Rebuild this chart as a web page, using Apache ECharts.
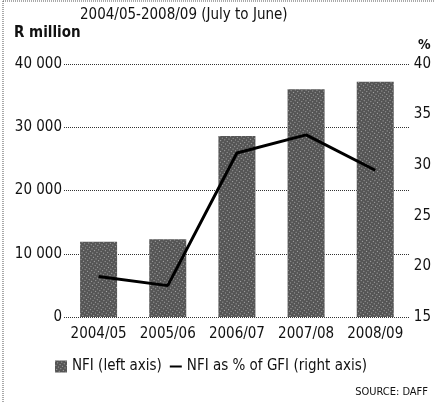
<!DOCTYPE html>
<html>
<head>
<meta charset="utf-8">
<script src="https://cdn.jsdelivr.net/npm/echarts@6/dist/echarts.min.js"></script>
<style>
  html, body { margin: 0; padding: 0; background: #fff; }
  #chart { width: 434px; height: 403px; }
</style>
</head>
<body>
<div id="chart"></div>
<script>
  // data
  var years = ['2004/05', '2005/06', '2006/07', '2007/08', '2008/09'];
  var nfi = [11900, 12300, 28600, 36000, 37200];          // R million, left axis
  var nfiPctGfi = [19.0, 18.1, 31.2, 33.0, 29.5];          // %, right axis

  var font = '"Liberation Sans Narrow", "DejaVu Sans Condensed", sans-serif';

  var myChart = echarts.init(document.getElementById('chart'));
  myChart.setOption({
    animation: false,
    textStyle: { fontFamily: font, color: '#111' },
    grid: { left: 64, right: 24, top: 64, bottom: 86 },
    graphic: [
      { type: 'line', shape: { x1: 3, y1: 1, x2: 434, y2: 1 },
        style: { stroke: '#555', lineWidth: 1, lineDash: [1, 1] } },
      { type: 'line', shape: { x1: 3, y1: 1, x2: 3, y2: 403 },
        style: { stroke: '#555', lineWidth: 1, lineDash: [1, 1] } },
      { type: 'text', left: 80, top: 8,
        style: { text: '2004/05-2008/09 (July to June)', font: '15px ' + font, fill: '#111' } },
      { type: 'text', left: 14, top: 26,
        style: { text: 'R million', font: 'bold 15px ' + font, fill: '#111' } },
      { type: 'text', left: 418, top: 38,
        style: { text: '%', font: 'bold 14px ' + font, fill: '#111' } },
      { type: 'text', right: 6, top: 387,
        style: { text: 'SOURCE: DAFF', font: '11px ' + font, fill: '#111' } }
    ],
    legend: {
      top: 354,
      left: 50,
      itemGap: 8,
      itemWidth: 12,
      itemHeight: 12,
      textStyle: { fontFamily: font, fontSize: 15, color: '#111' },
      data: [
        { name: 'NFI (left axis)', icon: 'rect' },
        { name: 'NFI as % of GFI (right axis)', icon: 'path://M0,9 L12,9 L12,11 L0,11 Z' }
      ]
    },
    xAxis: {
      type: 'category',
      data: years,
      axisLine: { show: false },
      axisTick: { show: false },
      axisLabel: { fontSize: 15, margin: 10, color: '#111', interval: 0 }
    },
    yAxis: [
      {
        type: 'value',
        min: 0, max: 40000, interval: 10000,
        axisLine: { show: false },
        axisTick: { show: false },
        axisLabel: {
          fontSize: 15, margin: 2, color: '#111',
          formatter: function (v) { return v === 0 ? '0' : (v / 1000) + ' 000'; }
        },
        splitLine: { lineStyle: { color: '#333', type: [1, 1], width: 1 } }
      },
      {
        type: 'value',
        min: 15, max: 40, interval: 5,
        axisLine: { show: false },
        axisTick: { show: false },
        axisLabel: { fontSize: 15, margin: 4, color: '#111' },
        splitLine: { show: false }
      }
    ],
    series: [
      {
        name: 'NFI (left axis)',
        type: 'bar',
        data: nfi,
        barWidth: 37,
        itemStyle: {
          color: '#555',
          decal: {
            symbol: 'rect',
            symbolSize: 1,
            color: 'rgba(255,255,255,0.5)',
            dashArrayX: [1, 2],
            dashArrayY: [1, 2],
            rotation: 0.6
          }
        }
      },
      {
        name: 'NFI as % of GFI (right axis)',
        type: 'line',
        yAxisIndex: 1,
        data: nfiPctGfi,
        symbol: 'none',
        lineStyle: { color: '#000', width: 3 },
        itemStyle: { color: '#000' },
        z: 5
      }
    ]
  });
</script>
</body>
</html>
